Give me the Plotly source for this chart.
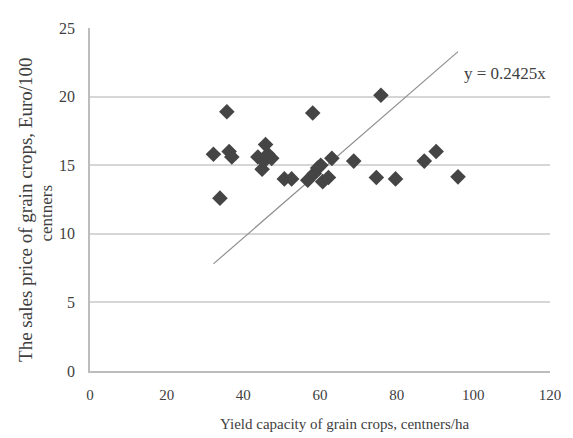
import plotly.graph_objects as go

# Data
yield_x = [32.2, 33.9, 35.7, 36.3, 37.0, 43.8, 44.9, 45.4, 45.8, 46.4, 47.4,
           50.7, 52.6, 56.8, 58.1, 58.5, 59.4, 60.2, 60.7, 62.2, 63.1, 68.8,
           74.7, 75.9, 79.7, 87.2, 90.3, 96.0]
price_y = [15.8, 12.6, 18.9, 16.0, 15.6, 15.6, 14.7, 15.3, 16.5, 15.8, 15.5,
           14.0, 14.0, 13.9, 18.8, 14.4, 14.8, 15.0, 13.8, 14.1, 15.5, 15.3,
           14.1, 20.1, 14.0, 15.3, 16.0, 14.15]
slope = 0.2425
x_ticks = [0, 20, 40, 60, 80, 100, 120]
y_ticks = [0, 5, 10, 15, 20, 25]

FONT = "Liberation Serif"
TXT = "#404040"
trend_x = [min(yield_x), max(yield_x)]
trend_y = [slope * v for v in trend_x]

# page is drawn with an 8px body margin; plot area spans page x 90..558, y 22..371
PL, PW, PB, PH = 90, 468, 371, 349


def px(x):
    return (x - PL) / PW


def py(y):
    return (PB - y) / PH


fig = go.Figure()
fig.add_trace(go.Scatter(
    x=trend_x, y=trend_y, mode="lines",
    line=dict(color="#8f8f8f", width=1.2), hoverinfo="skip", showlegend=False))
fig.add_trace(go.Scatter(
    x=yield_x, y=price_y, mode="markers",
    marker=dict(symbol="diamond", size=12, color="#454545",
                line=dict(width=0)),
    showlegend=False))

fig.update_layout(
    width=565, height=430,
    margin=dict(l=82, r=15, t=14, b=67),
    paper_bgcolor="white", plot_bgcolor="white",
    font=dict(family=FONT, size=15, color=TXT),
    xaxis=dict(range=[0, 120], tickvals=x_ticks, showgrid=False,
               showline=True, linecolor="#bdbdbd", linewidth=1.5,
               ticks="", zeroline=False, fixedrange=True,
               ticklabelstandoff=9,
               tickfont=dict(family=FONT, size=15, color=TXT)),
    yaxis=dict(range=[0, 25], tickvals=y_ticks, showgrid=True,
               gridcolor="#d6d6d6", gridwidth=1.5,
               showline=True, linecolor="#bdbdbd", linewidth=1.5,
               ticks="", zeroline=False, fixedrange=True,
               ticklabelstandoff=10,
               tickfont=dict(family=FONT, size=16, color=TXT)),
    annotations=[
        dict(text="Yield capacity of grain crops, centners/ha",
             xref="paper", yref="paper", x=px(349), y=py(425),
             xanchor="center", yanchor="middle", showarrow=False,
             font=dict(family=FONT, size=15, color=TXT)),
        dict(text="The sales price of grain crops, Euro/100",
             xref="paper", yref="paper", x=px(25), y=py(207),
             xanchor="center", yanchor="middle", showarrow=False,
             textangle=-90,
             font=dict(family=FONT, size=19, color=TXT)),
        dict(text="centners",
             xref="paper", yref="paper", x=px(46), y=py(210),
             xanchor="center", yanchor="middle", showarrow=False,
             textangle=-90,
             font=dict(family=FONT, size=17, color=TXT)),
        dict(text="y = 0.2425x", xref="paper", yref="paper",
             x=px(512), y=py(68),
             xanchor="center", yanchor="middle", showarrow=False,
             font=dict(family=FONT, size=17, color=TXT)),
    ],
)

fig.write_html("out.html")
